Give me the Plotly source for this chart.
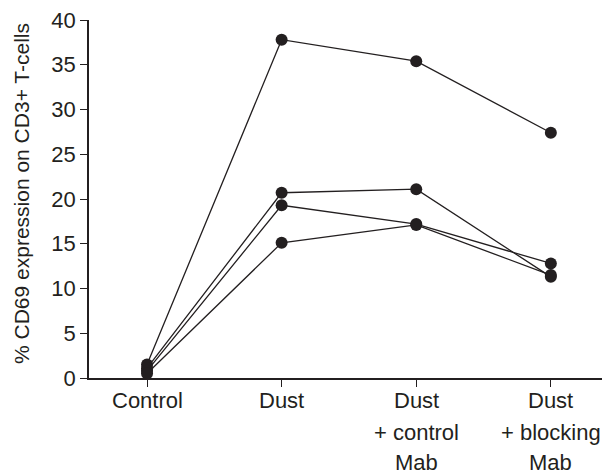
import plotly.graph_objects as go

categories = ["Control", "Dust", "Dust<br>+ control<br>Mab", "Dust<br>+ blocking<br>Mab"]
cat_lines = [["Control"], ["Dust"], ["Dust", "+ control", "Mab"], ["Dust", "+ blocking", "Mab"]]
series_a = [1.5, 37.8, 35.4, 27.4]
series_b = [1.1, 20.7, 21.1, 11.3]
series_c = [0.8, 19.3, 17.2, 12.8]
series_d = [0.5, 15.1, 17.1, 11.5]
y_ticks = [0, 5, 10, 15, 20, 25, 30, 35, 40]

INK = "#231f20"
FONT = "Liberation Sans, Arial, sans-serif"
W, H = 602, 475
ML, MR, MT, MB = 89, 0, 20, 97

xpos = list(range(len(categories)))
fig = go.Figure()
for s in [series_a, series_b, series_c, series_d]:
    fig.add_trace(go.Scatter(
        x=xpos, y=s, mode="lines+markers",
        line=dict(color=INK, width=1.3),
        marker=dict(color=INK, size=12),
        cliponaxis=False, showlegend=False, hoverinfo="skip"))

plot_h = H - MT - MB
line_gap = 31
for i, lines in enumerate(cat_lines):
    for j, t in enumerate(lines):
        center_px = 401 + j * line_gap
        yp = (H - MB - center_px) / plot_h
        fig.add_annotation(x=i, xref="x", y=yp, yref="paper", text=t,
                           showarrow=False, xanchor="center", yanchor="middle",
                           font=dict(family=FONT, size=22, color=INK))

fig.add_annotation(x=(22 - ML) / (W - ML - MR), xref="paper", y=0.514, yref="paper",
                   text="% CD69 expression on CD3+ T-cells", textangle=-90,
                   showarrow=False, xanchor="center", yanchor="middle",
                   font=dict(family=FONT, size=21, color=INK))

fig.update_layout(
    width=W, height=H, margin=dict(l=ML, r=MR, t=MT, b=MB),
    paper_bgcolor="white", plot_bgcolor="white",
    font=dict(family=FONT, size=22, color=INK),
    xaxis=dict(range=[-0.431, 3.38], tickvals=xpos, ticktext=categories,
               showticklabels=False, ticks="outside", ticklen=7, tickwidth=1.2,
               tickcolor=INK, showline=True, linecolor=INK, linewidth=1.5,
               showgrid=False, zeroline=False, fixedrange=True),
    yaxis=dict(range=[0, 40], tickvals=y_ticks, ticks="outside", ticklen=7,
               tickwidth=1.2, tickcolor=INK, showline=True, linecolor=INK,
               linewidth=1.5, showgrid=False, zeroline=False,
               tickfont=dict(family=FONT, size=22, color=INK), fixedrange=True),
)
fig.write_html("out.html")
